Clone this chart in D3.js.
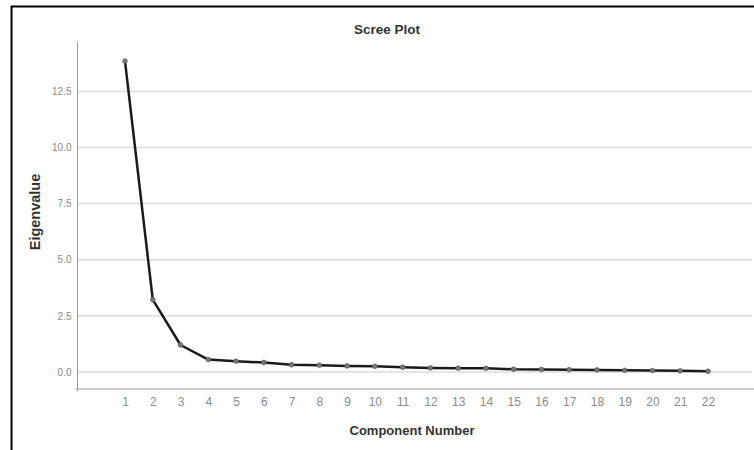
<!DOCTYPE html>
<html>
<head>
<meta charset="utf-8">
<script src="https://cdn.jsdelivr.net/npm/d3@7"></script>
<style>
  html, body { margin: 0; padding: 0; background: #fff; }
  svg { display: block; font-family: "Liberation Sans", Arial, sans-serif; }
</style>
</head>
<body>
<svg id="chart" width="754" height="450"></svg>
<script>
const components = [1,2,3,4,5,6,7,8,9,10,11,12,13,14,15,16,17,18,19,20,21,22];
const eigenvalues = [13.85, 3.22, 1.20, 0.55, 0.48, 0.42, 0.32, 0.30, 0.27, 0.25, 0.21, 0.18, 0.17, 0.16, 0.12, 0.11, 0.10, 0.09, 0.07, 0.06, 0.05, 0.03];
const yTicks = [0, 2.5, 5, 7.5, 10, 12.5];
const titleText = "Scree Plot";
const xTitle = "Component Number";
const yTitle = "Eigenvalue";

const svg = d3.select("#chart");

// frame
svg.append("line").attr("x1", 11).attr("x2", 754).attr("y1", 6.5).attr("y2", 6.5)
  .attr("stroke", "#000").attr("stroke-width", 2);
svg.append("line").attr("x1", 11.5).attr("x2", 11.5).attr("y1", 6).attr("y2", 450)
  .attr("stroke", "#000").attr("stroke-width", 2);

const plotLeft = 77.5, plotRight = 752, plotTop = 42, plotBottom = 389;

const x = d3.scaleLinear().domain([1, 22]).range([125, 708]);
const y = d3.scaleLinear().domain([-0.76, 14.7]).range([plotBottom, plotTop]);

// gridlines
svg.append("g").selectAll("line").data(yTicks).join("line")
  .attr("x1", plotLeft).attr("x2", plotRight)
  .attr("y1", d => y(d)).attr("y2", d => y(d))
  .attr("stroke", "#dcdcdc").attr("stroke-width", 1.5);

// y axis
const yAxis = d3.axisLeft(y).tickValues(yTicks).tickFormat(d3.format(".1f")).tickSize(0).tickPadding(6);
const gy = svg.append("g").attr("transform", `translate(${plotLeft},0)`).call(yAxis);
gy.select(".domain").remove();
gy.selectAll("text").attr("fill", "#8c8c8c").attr("font-size", 10);
svg.append("line").attr("x1", plotLeft).attr("x2", plotLeft).attr("y1", plotTop).attr("y2", plotBottom + 2)
  .attr("stroke", "#9a9a9a").attr("stroke-width", 1);

// x axis
const xAxis = d3.axisBottom(x).tickValues(components).tickFormat(d3.format("d")).tickSize(0).tickPadding(8);
const gx = svg.append("g").attr("transform", `translate(0,${plotBottom})`).call(xAxis);
gx.select(".domain").remove();
gx.selectAll("text").attr("fill", "#8c8c8c").attr("font-size", 12);
svg.append("line").attr("x1", plotLeft - 2).attr("x2", 754).attr("y1", plotBottom).attr("y2", plotBottom)
  .attr("stroke", "#9a9a9a").attr("stroke-width", 1.2);

// line
const line = d3.line().x((d, i) => x(components[i])).y(d => y(d));
svg.append("path").datum(eigenvalues).attr("d", line)
  .attr("fill", "none").attr("stroke", "#1a1a1a").attr("stroke-width", 2.5)
  .attr("stroke-linejoin", "round");

// markers
svg.append("g").selectAll("circle").data(eigenvalues).join("circle")
  .attr("cx", (d, i) => x(components[i])).attr("cy", d => y(d)).attr("r", 2.4)
  .attr("fill", "#777").attr("stroke", "#555").attr("stroke-width", 0.6);

// titles
svg.append("text").attr("x", 387).attr("y", 34).attr("text-anchor", "middle")
  .attr("font-size", 13.5).attr("font-weight", "bold").attr("fill", "#333").text(titleText);
svg.append("text").attr("x", 412).attr("y", 435).attr("text-anchor", "middle")
  .attr("font-size", 13).attr("font-weight", "bold").attr("fill", "#333").text(xTitle);
svg.append("text").attr("transform", "translate(40,212) rotate(-90)").attr("text-anchor", "middle")
  .attr("font-size", 14.5).attr("font-weight", "bold").attr("fill", "#333").text(yTitle);
</script>
</body>
</html>
